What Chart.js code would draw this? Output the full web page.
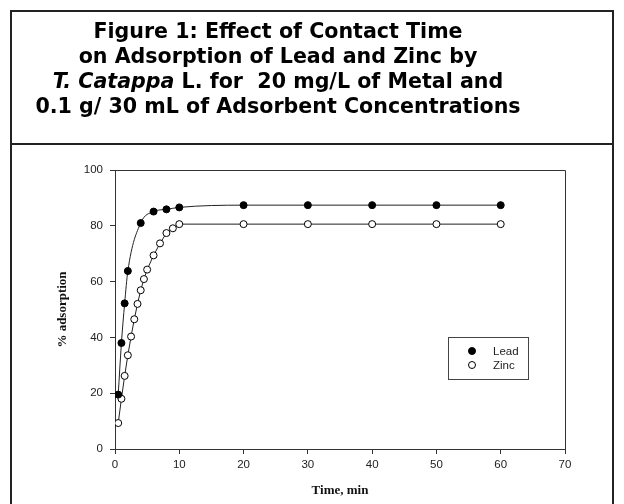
<!DOCTYPE html>
<html>
<head>
<meta charset="utf-8">
<script src="https://cdn.jsdelivr.net/npm/chart.js@4/dist/chart.umd.min.js"></script>
<style>
  html, body { margin: 0; padding: 0; background: #fff; }
  body { width: 624px; height: 504px; position: relative; overflow: hidden; }
  #c { position: absolute; left: 0; top: 0; }
  #frame {
    position: absolute; left: 10px; top: 10px; width: 600px; height: 520px;
    border: 2px solid #222; pointer-events: none;
  }
  #head {
    position: absolute; left: 0; top: 0; width: 600px; height: 131px;
    border-bottom: 2px solid #222;
  }
  #title {
    position: absolute; left: 0; top: 7px; width: 532px;
    font-family: "DejaVu Sans", Verdana, sans-serif; font-weight: bold;
    font-size: 20.6px; line-height: 25px; text-align: center; color: #000;
    white-space: pre;
  }
  #legend {
    position: absolute; left: 448px; top: 337px; width: 79px; height: 41px;
    border: 1px solid #444; background: #fff;
    font-family: "Liberation Sans", Arial, sans-serif; font-size: 11.5px; color: #222;
  }
  .item { position: absolute; left: 0; height: 14px; line-height: 14px; }
  .dot {
    position: absolute; left: 19px; top: 3px; width: 6px; height: 6px;
    border-radius: 50%; border: 1px solid #000; box-sizing: content-box;
  }
  .lbl { position: absolute; left: 44px; top: 0; }
</style>
</head>
<body>
<canvas id="c" width="624" height="504"></canvas>
<div id="frame">
  <div id="head">
    <div id="title">Figure 1: Effect of Contact Time
on Adsorption of Lead and Zinc by
<i>T. Catappa</i> L. for  20 mg/L of Metal and
0.1 g/ 30 mL of Adsorbent Concentrations</div>
  </div>
</div>
<div id="legend"></div>
<script>
// Contact time (min) and % adsorption for each metal
const leadTime = [0.5, 1, 1.5, 2, 4, 6, 8, 10, 20, 30, 40, 50, 60];
const leadAdsorption = [19.5, 38, 52.2, 63.8, 81, 85.1, 85.9, 86.6, 87.4, 87.4, 87.4, 87.4, 87.4];
const zincTime = [0.5, 1, 1.5, 2, 2.5, 3, 3.5, 4, 4.5, 5, 6, 7, 8, 9, 10, 20, 30, 40, 50, 60];
const zincAdsorption = [9.3, 18, 26.2, 33.6, 40.3, 46.5, 52, 56.9, 60.9, 64.3, 69.4, 73.7, 77.4, 79.1, 80.6, 80.6, 80.6, 80.6, 80.6, 80.6];
const xTicks = [0, 10, 20, 30, 40, 50, 60, 70];
const yTicks = [0, 20, 40, 60, 80, 100];

const toPoints = (xs, ys) => xs.map((x, i) => ({ x: x, y: ys[i] }));

// Closes the plot box with top and right edges
const plotBox = {
  id: 'plotBox',
  afterDatasetsDraw(chart) {
    const { ctx, chartArea: a } = chart;
    ctx.save();
    ctx.strokeStyle = '#333';
    ctx.lineWidth = 1;
    ctx.beginPath();
    ctx.moveTo(Math.round(a.left) + 0.5, Math.round(a.top) + 0.5);
    ctx.lineTo(Math.round(a.right) + 0.5, Math.round(a.top) + 0.5);
    ctx.lineTo(Math.round(a.right) + 0.5, Math.round(a.bottom) + 0.5);
    ctx.stroke();
    ctx.restore();
  }
};

const tickFont = { family: '"Liberation Sans", Arial, sans-serif', size: 11.5 };
const titleFont = { family: '"Liberation Serif", "Times New Roman", serif', size: 13, weight: 'bold' };

const chart = new Chart(document.getElementById('c'), {
  type: 'line',
  data: {
    datasets: [
      {
        label: 'Lead',
        data: toPoints(leadTime, leadAdsorption),
        borderColor: '#222',
        borderWidth: 1,
        backgroundColor: '#000',
        pointBackgroundColor: '#000',
        pointBorderColor: '#000',
        pointBorderWidth: 1,
        pointRadius: 3.5,
        cubicInterpolationMode: 'monotone',
        fill: false
      },
      {
        label: 'Zinc',
        data: toPoints(zincTime, zincAdsorption),
        borderColor: '#222',
        borderWidth: 1,
        backgroundColor: '#fff',
        pointBackgroundColor: '#fff',
        pointBorderColor: '#000',
        pointBorderWidth: 1,
        pointRadius: 3.5,
        tension: 0,
        fill: false
      }
    ]
  },
  options: {
    responsive: false,
    animation: false,
    layout: { padding: { left: 55, top: 170, right: 59, bottom: 4 } },
    plugins: { legend: { display: false }, tooltip: { enabled: false } },
    scales: {
      x: {
        type: 'linear',
        min: 0, max: 70,
        afterBuildTicks(scale) { scale.ticks = xTicks.map(v => ({ value: v })); },
        afterFit(scale) { scale.height = 51; },
        ticks: { font: tickFont, color: '#222', padding: 4, maxRotation: 0 },
        grid: { drawOnChartArea: false, drawTicks: true, tickLength: 5, color: '#333' },
        border: { color: '#333', width: 1 },
        title: { display: true, text: 'Time, min', font: titleFont, color: '#111', padding: { top: 0, bottom: 2 } }
      },
      y: {
        type: 'linear',
        min: 0, max: 100,
        afterBuildTicks(scale) { scale.ticks = yTicks.map(v => ({ value: v })); },
        afterFit(scale) { scale.width = 60; },
        ticks: { font: tickFont, color: '#222', padding: 7 },
        grid: { drawOnChartArea: false, drawTicks: true, tickLength: 5, color: '#333' },
        border: { color: '#333', width: 1 },
        title: { display: true, text: '% adsorption', font: titleFont, color: '#111', padding: { top: 0, bottom: 0 } }
      }
    }
  },
  plugins: [plotBox]
});

// Legend box listing each series with its marker
const legend = document.getElementById('legend');
chart.data.datasets.forEach((ds, i) => {
  const item = document.createElement('div');
  item.className = 'item';
  item.style.top = (6 + i * 14) + 'px';
  const dot = document.createElement('span');
  dot.className = 'dot';
  dot.style.background = ds.pointBackgroundColor;
  const lbl = document.createElement('span');
  lbl.className = 'lbl';
  lbl.textContent = ds.label;
  item.appendChild(dot);
  item.appendChild(lbl);
  legend.appendChild(item);
});
</script>
</body>
</html>
